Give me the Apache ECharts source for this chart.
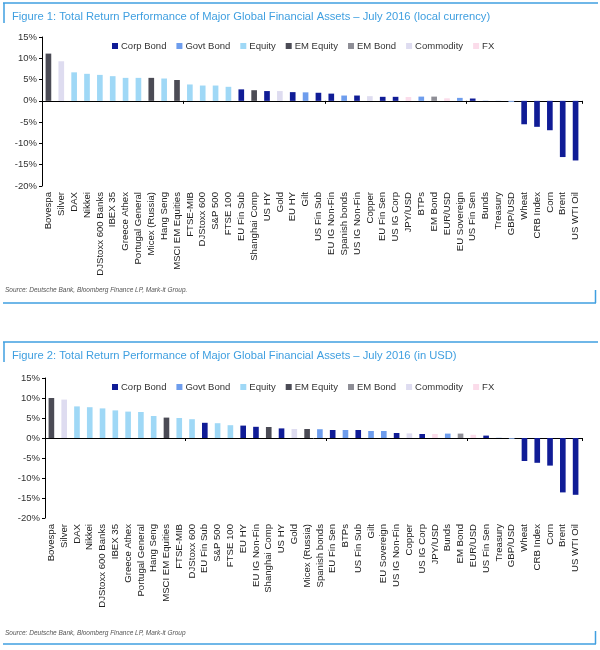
<!DOCTYPE html>
<html>
<head>
<meta charset="utf-8">
<script src="https://cdn.jsdelivr.net/npm/echarts@6/dist/echarts.min.js"></script>
<style>
html,body{margin:0;padding:0;background:#fff;}
#c{width:600px;height:650px;}
</style>
</head>
<body>
<div id="c"></div>
<script>
// ---------- DATA ----------
var groupNames = ['Corp Bond', 'Govt Bond', 'Equity', 'EM Equity', 'EM Bond', 'Commodity', 'FX'];
var yTicks = [-20, -15, -10, -5, 0, 5, 10, 15];

var cats1 = ['Bovespa','Silver','DAX','Nikkei','DJStoxx 600 Banks','IBEX 35','Greece Athex','Portugal General','Micex (Russia)','Hang Seng','MSCI EM Equities','FTSE-MIB','DJStoxx 600','S&P 500','FTSE 100','EU Fin Sub','Shanghai Comp','US HY','Gold','EU HY','Gilt','US Fin Sub','EU IG Non-Fin','Spanish bonds','US IG Non-Fin','Copper','EU Fin Sen','US IG Corp','JPY/USD','BTPs','EM Bond','EUR/USD','EU Sovereign','US Fin Sen','Bunds','Treasury','GBP/USD','Wheat','CRB Index','Corn','Brent','US WTI Oil'];
var vals1 = [11.1,9.3,6.7,6.35,6.1,5.8,5.4,5.4,5.4,5.25,4.9,3.85,3.6,3.6,3.3,2.7,2.5,2.3,2.3,2.05,2.0,1.9,1.7,1.25,1.25,1.1,0.95,0.95,0.9,1.0,1.0,0.6,0.7,0.55,0.05,0.03,-0.25,-5.5,-6.1,-6.9,-13.2,-14.0];
var groups1 = ['EM Equity','Commodity','Equity','Equity','Equity','Equity','Equity','Equity','EM Equity','Equity','EM Equity','Equity','Equity','Equity','Equity','Corp Bond','EM Equity','Corp Bond','Commodity','Corp Bond','Govt Bond','Corp Bond','Corp Bond','Govt Bond','Corp Bond','Commodity','Corp Bond','Corp Bond','FX','Govt Bond','EM Bond','FX','Govt Bond','Corp Bond','Govt Bond','Govt Bond','FX','Commodity','Commodity','Commodity','Commodity','Commodity'];

var cats2 = ['Bovespa','Silver','DAX','Nikkei','DJStoxx 600 Banks','IBEX 35','Greece Athex','Portugal General','Hang Seng','MSCI EM Equities','FTSE-MIB','DJStoxx 600','EU Fin Sub','S&P 500','FTSE 100','EU HY','EU IG Non-Fin','Shanghai Comp','US HY','Gold','Micex (Russia)','Spanish bonds','EU Fin Sen','BTPs','US Fin Sub','Gilt','EU Sovereign','US IG Non-Fin','Copper','US IG Corp','JPY/USD','Bunds','EM Bond','EUR/USD','US Fin Sen','Treasury','GBP/USD','Wheat','CRB Index','Corn','Brent','US WTI Oil'];
var vals2 = [10.0,9.6,7.9,7.7,7.4,6.9,6.6,6.5,5.5,5.1,5.0,4.7,3.8,3.7,3.2,3.1,2.8,2.75,2.4,2.25,2.25,2.2,2.0,2.0,2.0,1.75,1.75,1.25,1.15,1.0,1.0,1.1,1.1,0.8,0.6,0.05,-0.2,-5.75,-6.2,-6.9,-13.6,-14.2];
var groups2 = ['EM Equity','Commodity','Equity','Equity','Equity','Equity','Equity','Equity','Equity','EM Equity','Equity','Equity','Corp Bond','Equity','Equity','Corp Bond','Corp Bond','EM Equity','Corp Bond','Commodity','EM Equity','Govt Bond','Corp Bond','Govt Bond','Corp Bond','Govt Bond','Govt Bond','Corp Bond','Commodity','Corp Bond','FX','Govt Bond','EM Bond','FX','Corp Bond','Govt Bond','FX','Commodity','Commodity','Commodity','Commodity','Commodity'];

// ---------- STYLE ----------
var groupColors = {
  'Corp Bond': '#101c96',
  'Govt Bond': '#6e9ded',
  'Equity': '#9fd8f6',
  'EM Equity': '#4b4b55',
  'EM Bond': '#8e8e96',
  'Commodity': '#dedcf0',
  'FX': '#fbdcea'
};
// negative bars are drawn with inverted fill in the original
var negColors = { 'Commodity': '#101c96', 'FX': '#8fb3ee' };
var FONT = 'Liberation Sans, Arial, sans-serif';
var blue = '#3f9fe0';

function buildSeries(vals, groups, gi) {
  return groupNames.map(function (g) {
    return {
      name: g,
      type: 'bar',
      xAxisIndex: gi * 2,
      yAxisIndex: gi,
      stack: 'g' + gi,
      barWidth: '44%',
      itemStyle: { color: groupColors[g] },
      data: vals.map(function (v, i) {
        if (groups[i] !== g) return null;
        if (v < 0 && negColors[g]) return { value: v, itemStyle: { color: negColors[g] } };
        return v;
      })
    };
  });
}

function xAxes(cats, gi) {
  return [
    { type: 'category', gridIndex: gi, data: cats, position: 'bottom',
      axisLine: { onZero: true, lineStyle: { color: '#000', width: 1 } },
      axisTick: { show: true, length: 3, lineStyle: { color: '#000' } },
      axisLabel: { show: false } },
    { type: 'category', gridIndex: gi, data: cats, position: 'bottom',
      axisLine: { show: false, onZero: false }, axisTick: { show: false },
      axisLabel: { rotate: 90, interval: 0, fontSize: 9.6, color: '#222', fontFamily: FONT, margin: 6 } }
  ];
}
function yAxis(gi) {
  return { type: 'value', gridIndex: gi, min: yTicks[0], max: yTicks[yTicks.length - 1], interval: 5,
    splitLine: { show: false },
    axisLine: { show: true, lineStyle: { color: '#000', width: 1 } },
    axisTick: { show: true, length: 3, lineStyle: { color: '#000' } },
    axisLabel: { formatter: '{value}%', fontSize: 9.5, color: '#333', fontFamily: FONT, margin: 5 } };
}
function legend(top) {
  return { top: top, left: 107, itemWidth: 6, itemHeight: 6, itemGap: 10, icon: 'rect',
    textStyle: { fontSize: 9.5, color: '#333', fontFamily: FONT, padding: [0, 0, 0, -2] },
    data: groupNames };
}
function frame(yTop, yBot) {
  var ls = { stroke: blue, lineWidth: 1.5 };
  return [
    { type: 'line', shape: { x1: 3, y1: yTop, x2: 598, y2: yTop }, style: ls },
    { type: 'line', shape: { x1: 4, y1: yTop, x2: 4, y2: yTop + 20 }, style: ls },
    { type: 'line', shape: { x1: 3, y1: yBot, x2: 596, y2: yBot }, style: ls },
    { type: 'line', shape: { x1: 595.5, y1: yBot - 13, x2: 595.5, y2: yBot }, style: ls }
  ];
}
function source(y, txt) {
  return { type: 'text', left: 5, top: y, style: { text: txt, fontSize: 6.5, fontStyle: 'italic', fill: '#555', fontFamily: FONT } };
}

var chart = echarts.init(document.getElementById('c'));
chart.setOption({
  animation: false,
  backgroundColor: '#fff',
  title: [
    { text: 'Figure 1: Total Return Performance of Major Global Financial Assets – July 2016 (local currency)',
      left: 7, top: 6, textStyle: { fontSize: 11.2, fontWeight: 'normal', color: blue, fontFamily: FONT } },
    { text: 'Figure 2: Total Return Performance of Major Global Financial Assets – July 2016 (in USD)',
      left: 7, top: 345, textStyle: { fontSize: 11.2, fontWeight: 'normal', color: blue, fontFamily: FONT } }
  ],
  legend: [legend(36), legend(377)],
  grid: [
    { left: 42, right: 18, top: 37, height: 149 },
    { left: 45, right: 18, top: 378, height: 140 }
  ],
  xAxis: xAxes(cats1, 0).concat(xAxes(cats2, 1)),
  yAxis: [yAxis(0), yAxis(1)],
  series: buildSeries(vals1, groups1, 0).concat(buildSeries(vals2, groups2, 1)),
  graphic: frame(3, 303).concat(frame(342, 644)).concat([
    source(287, 'Source: Deutsche Bank, Bloomberg Finance LP, Mark-it Group.'),
    source(630, 'Source: Deutsche Bank, Bloomberg Finance LP, Mark-it Group')
  ])
});
</script>
</body>
</html>
